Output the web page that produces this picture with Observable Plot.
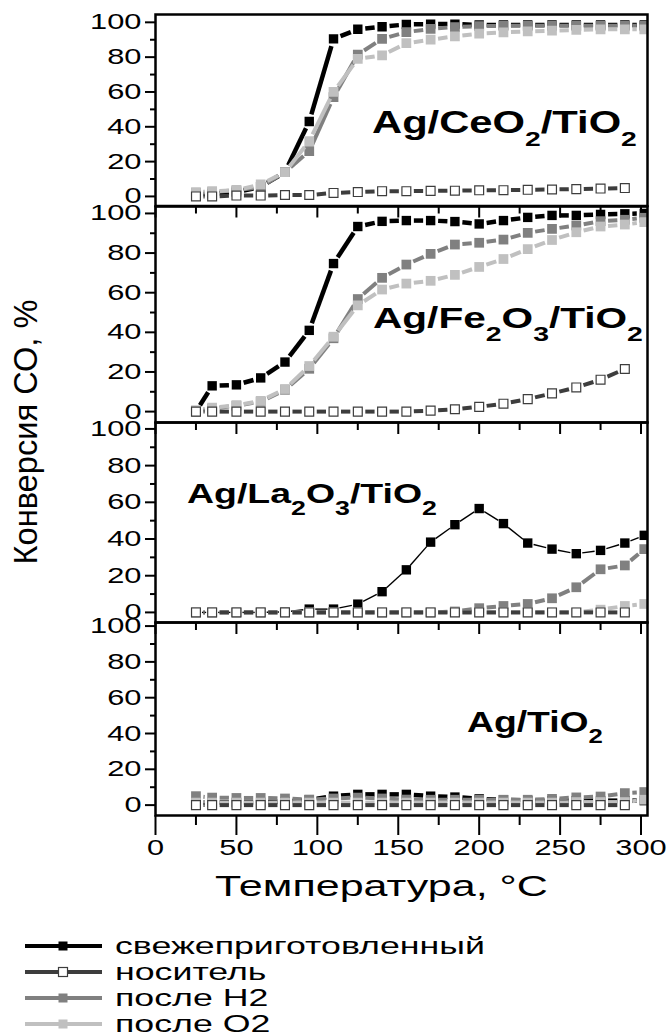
<!DOCTYPE html>
<html><head><meta charset="utf-8">
<script src="https://cdn.jsdelivr.net/npm/d3@7"></script>
<script src="https://cdn.jsdelivr.net/npm/@observablehq/plot@0.6"></script>
<style>
html,body{margin:0;padding:0;background:#fff;}
#chart{position:relative;width:671px;height:1034px;overflow:hidden;font-family:"Liberation Sans",Arial,sans-serif;}
#chart > svg{position:absolute;left:0;}
</style></head><body><div id="chart"></div>
<script>
// ---------- data ----------
const temperatures = [25, 35, 50, 65, 80, 95, 110, 125, 140, 155, 170, 185, 200, 215, 230, 245, 260, 275, 290, 302];
const supportTemperatures = [25, 35, 50, 65, 80, 95, 110, 125, 140, 155, 170, 185, 200, 215, 230, 245, 260, 275, 290];

const catalysts = ["Ag/CeO2/TiO2", "Ag/Fe2O3/TiO2", "Ag/La2O3/TiO2", "Ag/TiO2"];
const seriesNames = ["свежеприготовленный", "носитель", "после H2", "после O2"];

// Ag/CeO2/TiO2
const ceFresh   = [1, 1.5, 2.5, 5.5, 14, 43, 90.5, 96, 97.5, 98.8, 99, 99, 98.5, 98.5, 98.5, 98.5, 98.5, 98.5, 98.5, 98.5];
const ceSupport = [0, 0, 0.5, 0.5, 0.8, 0.8, 2, 2.5, 3, 3, 3.2, 3.3, 3.5, 3.6, 3.8, 4, 4.2, 4.5, 4.8];
const ceH2      = [2, 2.5, 3.5, 5.5, 14, 26, 57, 81.5, 90.5, 94.4, 96.2, 97.3, 97.8, 98, 98, 98, 98, 98, 98, 98];
const ceO2      = [2.5, 3, 3.5, 6.9, 14, 31.8, 60, 79, 81, 88, 90, 92, 93.5, 94.2, 94.8, 95.2, 95.6, 96, 96, 96];

// Ag/Fe2O3/TiO2
const feFresh   = [0, 13, 13.5, 17, 25, 41, 74.7, 93.4, 96, 96.4, 96.4, 95.9, 94.7, 96.4, 98, 99, 99, 99.5, 99.8, 100];
const feSupport = [0, 0, 0, 0, 0, 0, 0, 0, 0, 0, 0.5, 1.2, 2.4, 4, 6.3, 9.2, 12.2, 16.1, 21.5];
const feH2      = [0.5, 1.5, 3, 5, 11, 21.6, 37, 56.8, 67.5, 74.2, 79.6, 84.3, 85.2, 86.8, 90.2, 92.2, 93.9, 96.1, 96.8, 97.8];
const feO2      = [0.5, 2, 3.2, 5.4, 11.4, 23, 37.8, 53.6, 61.6, 64.6, 66, 69, 73, 77, 82, 86.6, 90.5, 93.4, 94.4, 95.6];

// Ag/La2O3/TiO2
const laFresh   = [0, 0, 0, 0, 0.3, 1.8, 1.8, 4.5, 11.3, 23.2, 38.3, 47.8, 56.6, 48.4, 37.8, 34.5, 32, 33.8, 37.8, 42];
const laSupport = [0, 0, 0, 0, 0, 0, 0, 0, 0, 0, 0, 0, 0, 0, 0, 0, 0, 0, 0];
const laH2      = [0, 0, 0, 0, 0, 0, 0, 0, 0, 0, 0, 0.5, 2.3, 3.5, 4.6, 7.7, 13.7, 23.5, 25.6, 34.5];
const laO2      = [0, 0, 0, 0, 0, 0, 0, 0, 0, 0, 0, 0, 0, 0, 0, 0, 0, 1.5, 3.5, 4.6];

// Ag/TiO2
const tiFresh   = [1.5, 1.5, 1.5, 1.5, 2, 3, 5, 6, 6, 6, 5, 4.5, 3.5, 3, 2.5, 2.5, 2.5, 2.5, 2.5, 2.5];
const tiSupport = [0, 0, 0, 0, 0, 0, 0, 0, 0, 0, 0, 0, 0, 0, 0, 0, 0, 0, 0];
const tiH2      = [5, 4.2, 4, 4, 3.7, 3.1, 3.7, 4.2, 3.7, 3.1, 3, 3, 3, 3, 3, 3.5, 4.3, 4.8, 6.7, 7.3];
const tiO2      = [1.4, 1.4, 1.4, 1.4, 1.4, 1.4, 1.4, 1.4, 1.4, 1.4, 1.4, 1.4, 1.4, 1.4, 1.4, 1.4, 1.7, 1.7, 1.7, 3];

const xTicks = [0, 50, 100, 150, 200, 250, 300];
const xMinorTicks = [25, 75, 125, 175, 225, 275];
const yTicks = [0, 20, 40, 60, 80, 100];
const yMinorTicks = [10, 30, 50, 70, 90];
const xTitle = "Температура, °C";
const yTitle = "Конверсия СО, %";

// ---------- layout / style ----------
const panelData = [
  {fresh: ceFresh, support: ceSupport, h2: ceH2, o2: ceO2},
  {fresh: feFresh, support: feSupport, h2: feH2, o2: feO2},
  {fresh: laFresh, support: laSupport, h2: laH2, o2: laO2},
  {fresh: tiFresh, support: tiSupport, h2: tiH2, o2: tiO2}
];
const panelBoxes = [[14, 205.5], [205.5, 421.5], [421.5, 621.5], [621.5, 814.5]];
const panelYDomains = [[-5.5, 104.5], [-5.5, 103.5], [-5.5, 103.5], [-5.8, 102]];
const styles = {
  fresh:   {color: "#000000", width: 4.5, fill: "#000000", stroke: "none", r: 5.3},
  support: {color: "#3d3d3d", width: 4,   fill: "#ffffff", stroke: "#3d3d3d", r: 5},
  h2:      {color: "#808080", width: 4,   fill: "#808080", stroke: "none", r: 5.5},
  o2:      {color: "#c0c0c0", width: 4,   fill: "#c0c0c0", stroke: "none", r: 5.5}
};
const legendKeys = ["fresh", "support", "h2", "o2"];
const drawOrder = ["fresh", "h2", "o2", "support"];
const FONT = "Liberation Sans, Arial, sans-serif";
const root = document.getElementById("chart");

function stretchTicks(svg, factor) {
  svg.querySelectorAll('g[aria-label$="tick label"] text').forEach(t => {
    const len = t.getComputedTextLength();
    if (len > 0) {
      t.setAttribute("textLength", (len * factor).toFixed(1));
      t.setAttribute("lengthAdjust", "spacingAndGlyphs");
    }
  });
}

panelData.forEach((pd, i) => {
  const [top, bottom] = panelBoxes[i];
  const last = i === 3;
  const mt = 20, mb = last ? 60 : 20;
  const marks = [];
  for (const key of drawOrder) {
    const st = styles[key];
    const xs = key === "support" ? supportTemperatures : temperatures;
    const pts = pd[key].map((v, j) => ({t: xs[j], v}));
    const segs = d3.pairs(pts).map(([a, b]) => ({x1: a.t, y1: a.v, x2: b.t, y2: b.v}));
    const thin = (i === 2 && key === "fresh");
    marks.push(Plot.arrow(segs, {
      x1: "x1", y1: "y1", x2: "x2", y2: "y2",
      stroke: st.color, strokeWidth: thin ? 1.4 : st.width,
      headLength: 0, inset: thin ? 6 : 7.5, strokeLinecap: "butt", clip: true
    }));
    marks.push(Plot.dot(pts, {
      x: "t", y: "v", symbol: "square", r: st.r,
      fill: st.fill, stroke: st.stroke, strokeWidth: 1.2, clip: true
    }));
  }
  marks.push(Plot.frame({stroke: "#000", strokeWidth: 2.5}));
  marks.push(Plot.axisY({ticks: yTicks, tickSize: 10, tickPadding: 4, fontSize: 22, strokeWidth: 2, label: null}));
  marks.push(Plot.axisY({ticks: yMinorTicks, tickSize: 5, strokeWidth: 2, fill: "none", label: null}));
  if (last) {
    marks.push(Plot.axisX({ticks: xTicks, tickSize: 20, tickPadding: 4, fontSize: 22, strokeWidth: 2, label: null}));
    marks.push(Plot.axisX({ticks: xMinorTicks, tickSize: 10, strokeWidth: 2, fill: "none", label: null}));
  } else {
    marks.push(Plot.axisX({ticks: xTicks, tickSize: 12, strokeWidth: 2, fill: "none", label: null}));
    marks.push(Plot.axisX({ticks: xMinorTicks, tickSize: 8, strokeWidth: 2, fill: "none", label: null}));
  }
  const svg = Plot.plot({
    width: 671, height: (bottom - top) + mt + mb,
    marginLeft: 155, marginRight: 24, marginTop: mt, marginBottom: mb,
    x: {domain: [0, 304]},
    y: {domain: panelYDomains[i]},
    style: {background: "transparent", overflow: "visible", fontFamily: FONT, color: "#000"},
    marks
  });
  svg.style.top = (top - mt) + "px";
  svg.style.position = "absolute";
  root.appendChild(svg);
  stretchTicks(svg, 1.4);
});

// ---------- overlay: titles, panel names, legend ----------
const ov = d3.create("svg").attr("width", 671).attr("height", 1034)
  .style("position", "absolute").style("top", "0px").style("left", "0px")
  .style("font-family", FONT).style("overflow", "visible");
root.appendChild(ov.node());

function fitGroup(g, x0, x1, baseline) {
  const bb = g.node().getBBox();
  const s = (x1 - x0) / bb.width;
  g.attr("transform", `translate(${x0 - bb.x * s},${baseline}) scale(${s},1)`);
  return s;
}

// panel names with subscripts
const nameBoxes = [
  {x0: 372, x1: 637, base: 133, size: 31, sub: 21, dy: 13},
  {x0: 373, x1: 643, base: 328, size: 30, sub: 21, dy: 13},
  {x0: 187, x1: 437, base: 503, size: 28, sub: 20, dy: 12},
  {x0: 467, x1: 603, base: 732, size: 29, sub: 20, dy: 11}
];
catalysts.forEach((name, i) => {
  const b = nameBoxes[i];
  const g = ov.append("g");
  const t = g.append("text").attr("font-weight", "bold").attr("font-size", b.size).attr("fill", "#000");
  const parts = name.split(/(\d)/).filter(s => s.length);
  let down = false;
  parts.forEach(p => {
    const isSub = /^\d$/.test(p);
    const ts = t.append("tspan").text(p);
    if (isSub) { ts.attr("font-size", b.sub); if (!down) { ts.attr("dy", b.dy); down = true; } }
    else if (down) { ts.attr("dy", -b.dy); down = false; }
  });
  fitGroup(g, b.x0, b.x1, b.base);
});

// y title (condensed)
ov.append("text")
  .attr("transform", "translate(37,432) rotate(-90)")
  .attr("text-anchor", "middle").attr("font-size", 34)
  .attr("textLength", 265).attr("lengthAdjust", "spacingAndGlyphs")
  .text(yTitle);

// x title
{
  const g = ov.append("g");
  g.append("text").attr("font-size", 30).text(xTitle);
  fitGroup(g, 215, 548, 896);
}

// legend
const legendRows = [946, 972, 998, 1024];
let legendScale = null;
seriesNames.forEach((name, i) => {
  const st = styles[legendKeys[i]];
  const cy = legendRows[i];
  ov.append("line").attr("x1", 25).attr("x2", 102).attr("y1", cy).attr("y2", cy)
    .attr("stroke", st.color).attr("stroke-width", 4);
  ov.append("rect").attr("x", 58.5).attr("y", cy - 4.5).attr("width", 9).attr("height", 9)
    .attr("fill", st.fill).attr("stroke", st.stroke === "none" ? null : st.stroke).attr("stroke-width", 1.2);
  const g = ov.append("g");
  g.append("text").attr("font-size", 24).text(name);
  if (legendScale === null) {
    legendScale = fitGroup(g, 115, 485, cy + 8);
  } else {
    const bb = g.node().getBBox();
    g.attr("transform", `translate(${115 - bb.x * legendScale},${cy + 8}) scale(${legendScale},1)`);
  }
});
</script>
</body></html>
